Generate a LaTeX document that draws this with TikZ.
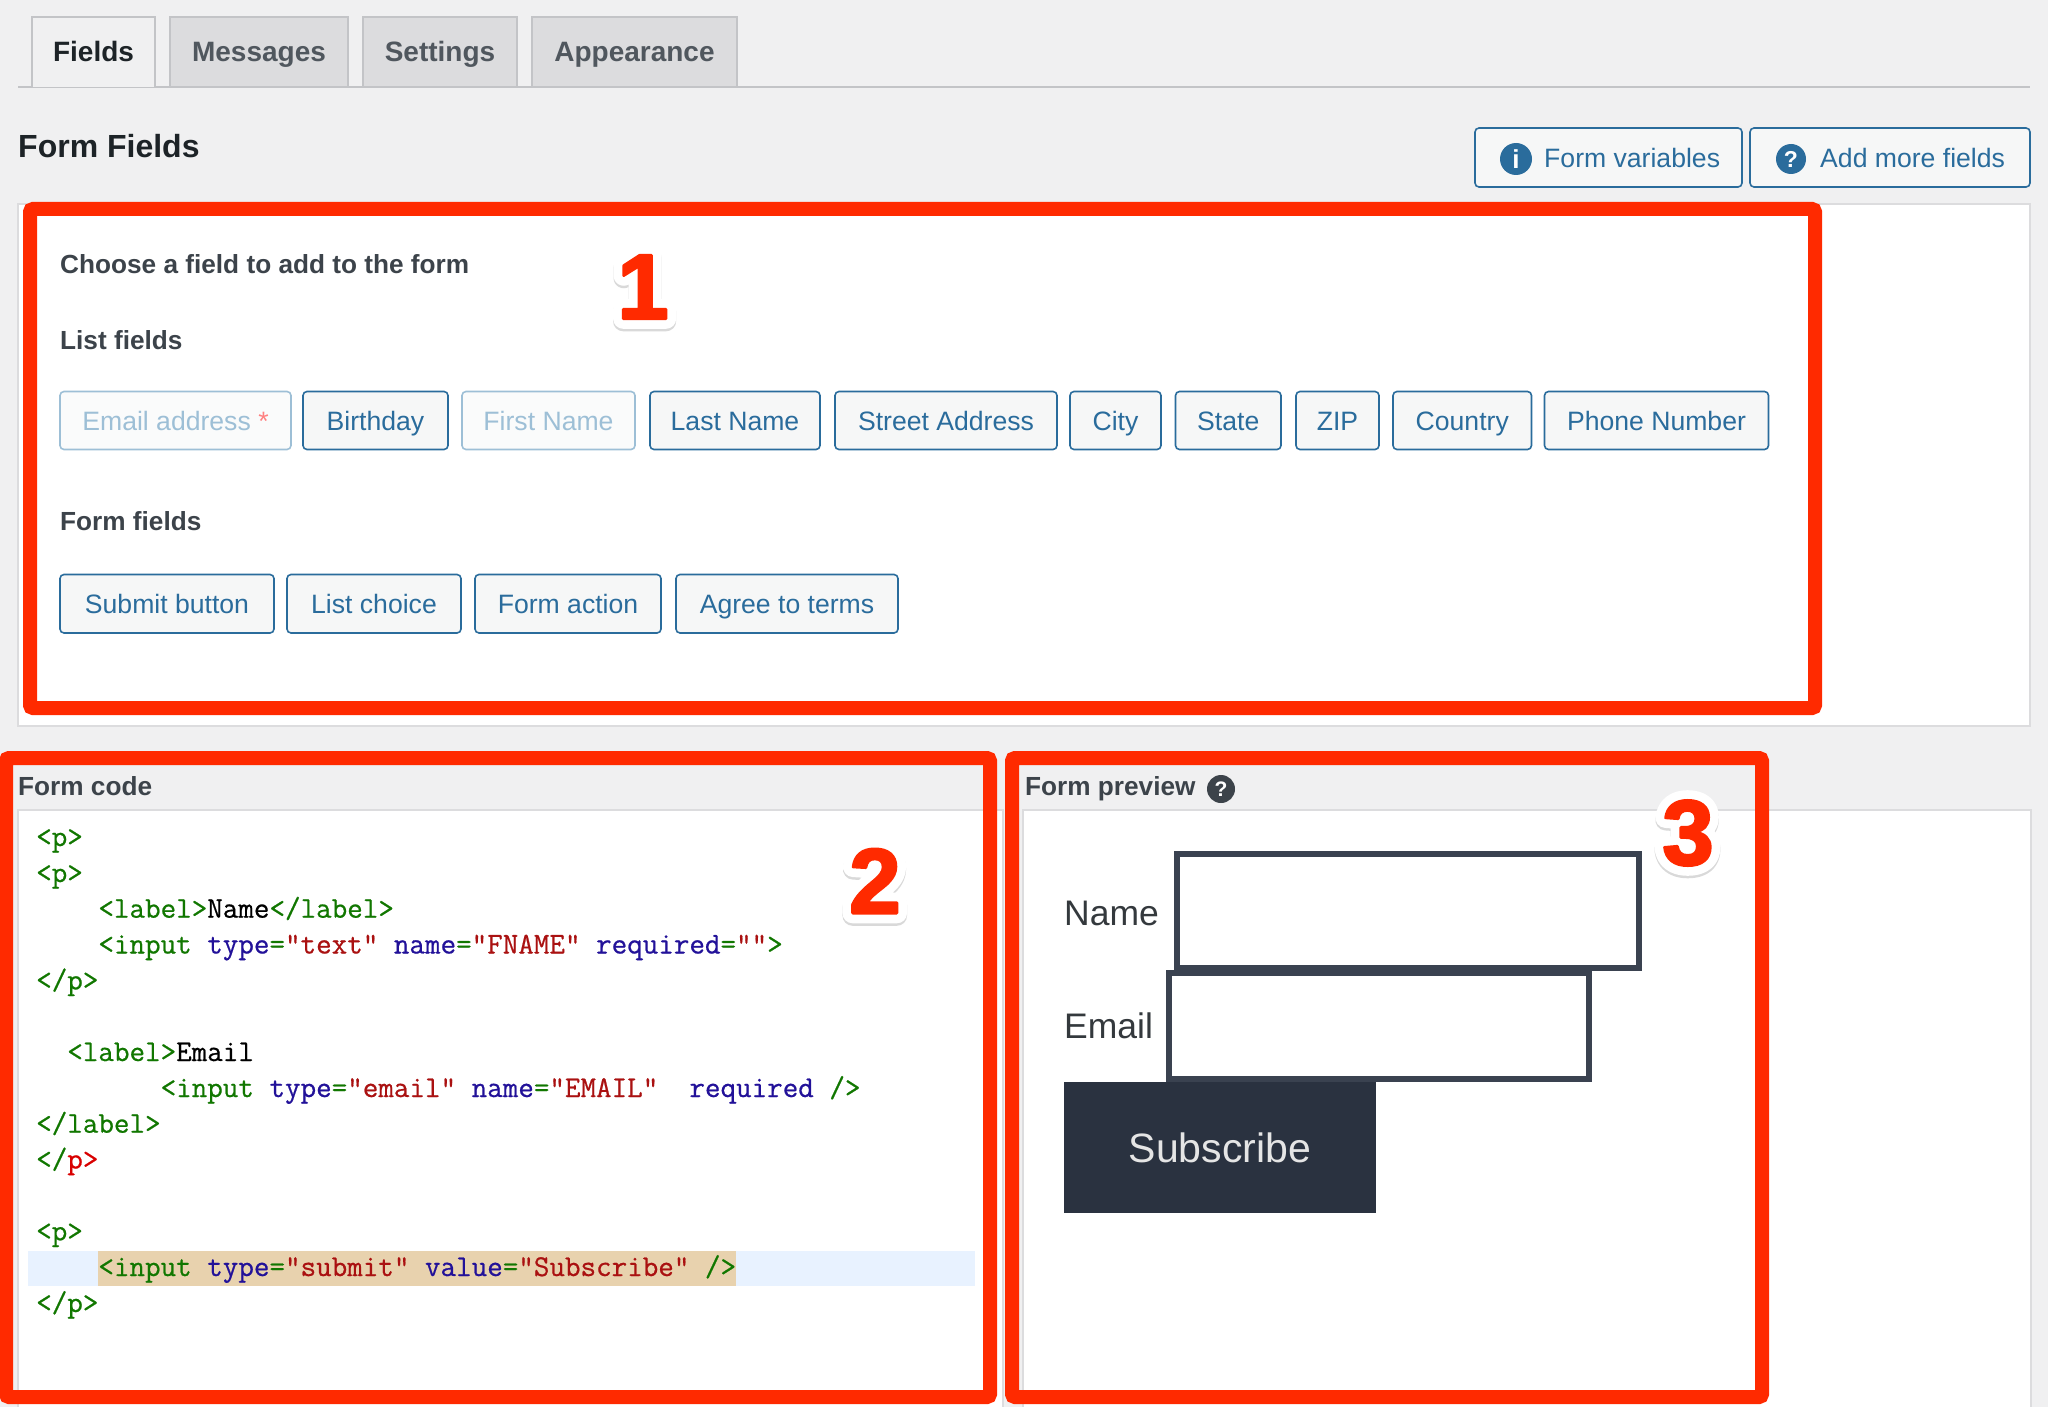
\documentclass[tikz,border=0pt]{standalone}
\usepackage{fontspec}
\usetikzlibrary{calc}
\setmainfont{Liberation Sans}
\setmonofont[RawFeature={embolden=0.6}]{Latin Modern Mono}
\newfontfamily\numfont[RawFeature={embolden=3}]{Liberation Sans Bold}
\newfontfamily\numrim[RawFeature={embolden=22}]{Liberation Sans Bold}
\definecolor{pagebg}{HTML}{F0F0F1}
\definecolor{rimgray}{HTML}{C3C4C7}
\definecolor{tabfill}{HTML}{DCDCDE}
\definecolor{inkdark}{HTML}{1D2327}
\definecolor{inkgray}{HTML}{3C434A}
\definecolor{tabink}{HTML}{50575E}
\definecolor{wpblue}{HTML}{2A6C9C}
\definecolor{wpfaint}{HTML}{9DBFD6}
\definecolor{btnfill}{HTML}{F6F7F7}
\definecolor{markred}{HTML}{FF2A00}
\definecolor{slate}{HTML}{2A3240}
\definecolor{slaterim}{HTML}{3A4250}
\definecolor{cmtag}{HTML}{117700}
\definecolor{cmattr}{HTML}{221199}
\definecolor{cmstr}{HTML}{AA1111}
\definecolor{cmline}{HTML}{E8F2FF}
\definecolor{cmmatch}{HTML}{E8D2AE}
\tikzset{
  tabbox/.style={draw=rimgray,fill=tabfill,line width=1.5pt},
  tabtext/.style={anchor=base,inner sep=0pt,text=tabink,font=\fontsize{28}{28}\selectfont\bfseries},
  heading/.style={anchor=base west,inner sep=0pt,text=inkgray,font=\fontsize{26.2}{26.2}\selectfont\bfseries},
  fieldbtn/.style={draw=wpblue,fill=btnfill,line width=1.6pt,rounded corners=4pt},
  fieldoff/.style={draw=wpfaint,fill=white!50!btnfill,line width=1.6pt,rounded corners=4pt},
  btntext/.style={anchor=base,inner sep=0pt,text=wpblue,font=\fontsize{26.6}{26.6}\selectfont},
  offtext/.style={anchor=base,inner sep=0pt,text=wpfaint,font=\fontsize{26.6}{26.6}\selectfont},
  markbox/.style={draw=markred,line width=14pt,rounded corners=3pt},
  codeline/.style={anchor=base west,inner sep=0pt,font=\fontsize{30.2}{30.2}\selectfont\ttfamily},
  formfield/.style={draw=slaterim,fill=white,line width=6pt},
  formlabel/.style={anchor=west,inner sep=0pt,text=inkdark!90,font=\fontsize{35.5}{35.5}\selectfont},
  bignum/.style={inner sep=0pt},
}
\newcommand{\cT}[1]{\textcolor{cmtag}{#1}}
\newcommand{\cA}[1]{\textcolor{cmattr}{#1}}
\newcommand{\cS}[1]{\textcolor{cmstr}{#1}}
\newcommand{\cE}[1]{\textcolor{red!85!black}{#1}}
\begin{document}
\begin{tikzpicture}[x=1pt,y=-1pt]
\useasboundingbox (0,0) rectangle (2048,1407);
\fill[pagebg] (0,0) rectangle (2048,1407);
% tabs
\draw[rimgray,line width=1.5pt] (18,87) -- (2030,87);
\draw[draw=rimgray,fill=pagebg,line width=1.5pt] (32,87) -- (32,17) -- (155,17) -- (155,87);
\draw[tabbox] (170,87) rectangle (348,17);
\draw[tabbox] (363,87) rectangle (517,17);
\draw[tabbox] (532,87) rectangle (737,17);
\node[tabtext,text=inkdark] (fields) at (93.5,62) {Fields};
\node[tabtext] (messages) at (259,62) {Messages};
\node[tabtext] (settings) at (440,62) {Settings};
\node[tabtext] (appearance) at (634.5,62) {Appearance};
\node[anchor=west,inner sep=0pt,text=inkdark,font=\fontsize{32}{32}\selectfont\bfseries] (title) at (18,146) {Form Fields};
% top right buttons
\draw[fieldbtn] (1475,128) rectangle (1742,187);
\draw[fieldbtn] (1750,128) rectangle (2030,187);
\node[circle,fill=wpblue,minimum size=32pt,inner sep=0pt,text=white,font=\fontsize{26}{26}\selectfont\bfseries] (varicon) at (1516,159) {i};
\node[circle,fill=wpblue,minimum size=30pt,inner sep=0pt,text=white,font=\fontsize{23}{23}\selectfont\bfseries] (moreicon) at (1791,159) {?};
\node[btntext,anchor=base west] (vartext) at (1544,167.5) {Form variables};
\node[btntext,anchor=base west] (moretext) at (1820,167.5) {Add more fields};
% panels
\draw[draw=tabfill,fill=white,line width=1.5pt] (18,204) rectangle (2030,726);
\draw[draw=tabfill,fill=white,line width=1.5pt] (18,810) rectangle (1003,1420);
\draw[draw=tabfill,fill=white,line width=1.5pt] (1023,810) rectangle (2031,1420);
% section 1
\node[heading] (choose) at (60,273) {Choose a field to add to the form};
\node[heading] (listf) at (60,349) {List fields};
\node[heading] (formf) at (60,530) {Form fields};
\foreach \xa/\xb/\lab/\nm in {303/448/Birthday/birthday,650/820/Last Name/lastname,835/1057/Street Address/street,1070/1161/City/city,1175.5/1281/State/state,1296/1379/ZIP/zip,1393/1531.5/Country/country,1544.5/1768.5/Phone Number/phone}
{
  \draw[fieldbtn] (\xa,391.5) rectangle (\xb,449.5);
  \node[btntext] (\nm) at ({(\xa+\xb)/2},430.5) {\lab};
}
\draw[fieldoff] (60,391.5) rectangle (291,449.5);
\node[offtext] (email) at (175.5,430.5) {Email address \textcolor{red!50}{*}};
\draw[fieldoff] (462,391.5) rectangle (635,449.5);
\node[offtext] (firstname) at (548.5,430.5) {First Name};
\foreach \xa/\xb/\lab/\nm in {60/274/Submit button/submit,287/461/List choice/choice,475/661/Form action/action,676/898/Agree to terms/agree}
{
  \draw[fieldbtn] (\xa,574.5) rectangle (\xb,633);
  \node[btntext] (\nm) at ({(\xa+\xb)/2},613.5) {\lab};
}
% section 2
\node[heading] (codehead) at (18,795) {Form code};
\fill[cmline] (28,1250.5) rectangle (974.5,1285.5);
\fill[cmmatch] (98,1250.5) rectangle (735.5,1285.5);
\node[codeline] (l0) at (36,846) {\cT{<p>}};
\node[codeline] (l1) at (36,882) {\cT{<p>}};
\node[codeline] (l2) at (36,917.7) {\ \ \ \ \cT{<label>}Name\cT{</label>}};
\node[codeline] (l3) at (36,953.5) {\ \ \ \ \cT{<input} \cA{type}\cT{=}\cS{"text"} \cA{name}\cT{=}\cS{"FNAME"} \cA{required}\cT{=}\cS{""}\cT{>}};
\node[codeline] (l4) at (36,989.4) {\cT{</p>}};
\node[codeline] (l6) at (36,1061) {\ \ \cT{<label>}Email};
\node[codeline] (l7) at (36,1097) {\ \ \ \ \ \ \ \ \cT{<input} \cA{type}\cT{=}\cS{"email"} \cA{name}\cT{=}\cS{"EMAIL"} \ \cA{required} \cT{/>}};
\node[codeline] (l8) at (36,1132.7) {\cT{</label>}};
\node[codeline] (l9) at (36,1168.5) {\cT{</}\cE{p>}};
\node[codeline] (l11) at (36,1240.3) {\cT{<p>}};
\node[codeline] (l12) at (36,1276) {\ \ \ \ \cT{<input} \cA{type}\cT{=}\cS{"submit"} \cA{value}\cT{=}\cS{"Subscribe"} \cT{/>}};
\node[codeline] (l13) at (36,1312) {\cT{</p>}};
% section 3
\node[heading] (prevhead) at (1025,795) {Form preview};
\node[circle,fill=inkgray,minimum size=28pt,inner sep=0pt,text=white,font=\fontsize{21}{21}\selectfont\bfseries] (prevhelp) at (1221,789) {?};
\draw[formfield] (1177,854) rectangle (1639,967.5);
\draw[formfield] (1168.5,973) rectangle (1589,1079);
\node[formlabel] (namelab) at (1064,913) {Name};
\node[formlabel] (emaillab) at (1064,1026) {Email};
\node[fill=slate,minimum width=312pt,minimum height=131pt,inner sep=0pt,text=white!90!black,font=\fontsize{41}{41}\selectfont] (subbtn) at (1220,1147.5) {Subscribe};
% red frames
\draw[markbox] (30,209) rectangle (1815,708);
\draw[markbox] (6,758) rectangle (990,1397);
\draw[markbox] (1012,758) rectangle (1762,1397);
% big numbers
\begin{scope}[line join=round]
\foreach \num/\px/\py in {1/643/287,2/875/881,3/1688/833}
{
  \node[bignum,text=black!15,font=\fontsize{92}{92}\numrim] (shade\num) at (\px,\py+2.5) {\num};
  \node[bignum,text=white,font=\fontsize{92}{92}\numrim] (rim\num) at (\px,\py) {\num};
  \node[bignum,text=markred,font=\fontsize{92}{92}\numfont] (num\num) at (\px,\py) {\num};
}
\end{scope}
\end{tikzpicture}
\end{document}
